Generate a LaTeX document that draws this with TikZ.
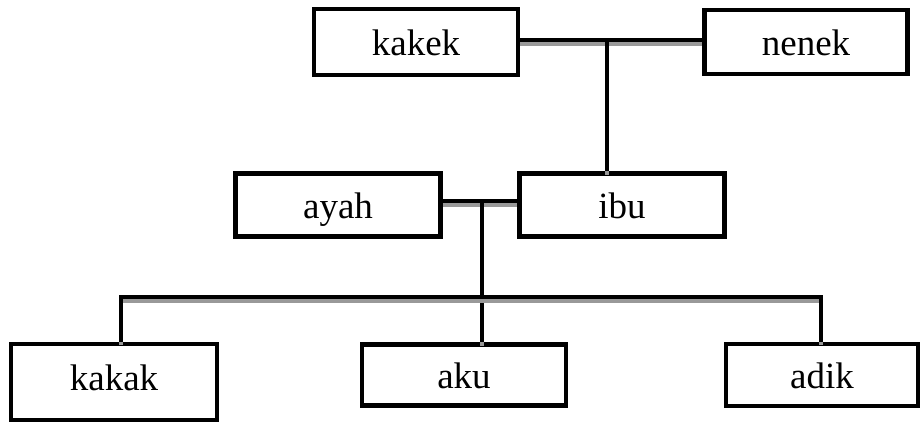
\documentclass[tikz,border=0pt]{standalone}
\usepackage{fontspec}
\setmainfont{Liberation Serif}
\begin{document}
\begin{tikzpicture}[x=1pt,y=-1pt,
  box/.style={draw=black, line width=4.5pt, fill=white, inner sep=0pt,
    text height=26pt, text depth=0pt,
    font=\fontsize{37}{40}\selectfont},
  conn/.style={line width=4.5pt, draw=black,
    preaction={draw=black!40, line width=4pt, transform canvas={yshift=-3.5pt}}}]
\useasboundingbox (0,0) rectangle (923,423);
\fill[white] (0,0) rectangle (923,423);
% boxes
\node[box, minimum width=204pt, minimum height=66pt] (kakek) at (416,42) {kakek};
\node[box, minimum width=203pt, minimum height=64pt] (nenek) at (806,42) {nenek};
\node[box, minimum width=205pt, minimum height=63pt] (ayah) at (338,205) {ayah};
\node[box, minimum width=205pt, minimum height=63pt] (ibu) at (622,205) {ibu};
\node[box, minimum width=206pt, minimum height=76pt, text depth=10pt] (kakak) at (114,382) {kakak};
\node[box, minimum width=204pt, minimum height=61pt] (aku) at (464,375) {aku};
\node[box, minimum width=192pt, minimum height=62pt] (adik) at (822,375) {adik};
% junctions
\coordinate (j1) at (607,40);
\coordinate (j2) at (482,201);
\coordinate (bl) at (121,297);
\coordinate (br) at (821,297);
% connectors
\draw[conn] (kakek.east |- j1) -- (nenek.west |- j1);
\draw[conn] (j1) -- (j1 |- ibu.north);
\draw[conn] (ayah.east |- j2) -- (ibu.west |- j2);
\draw[conn] (j2) -- (j2 |- aku.north);
\draw[conn] (bl |- kakak.north) -- (bl) -- (br) -- (br |- adik.north);
\end{tikzpicture}
\end{document}
